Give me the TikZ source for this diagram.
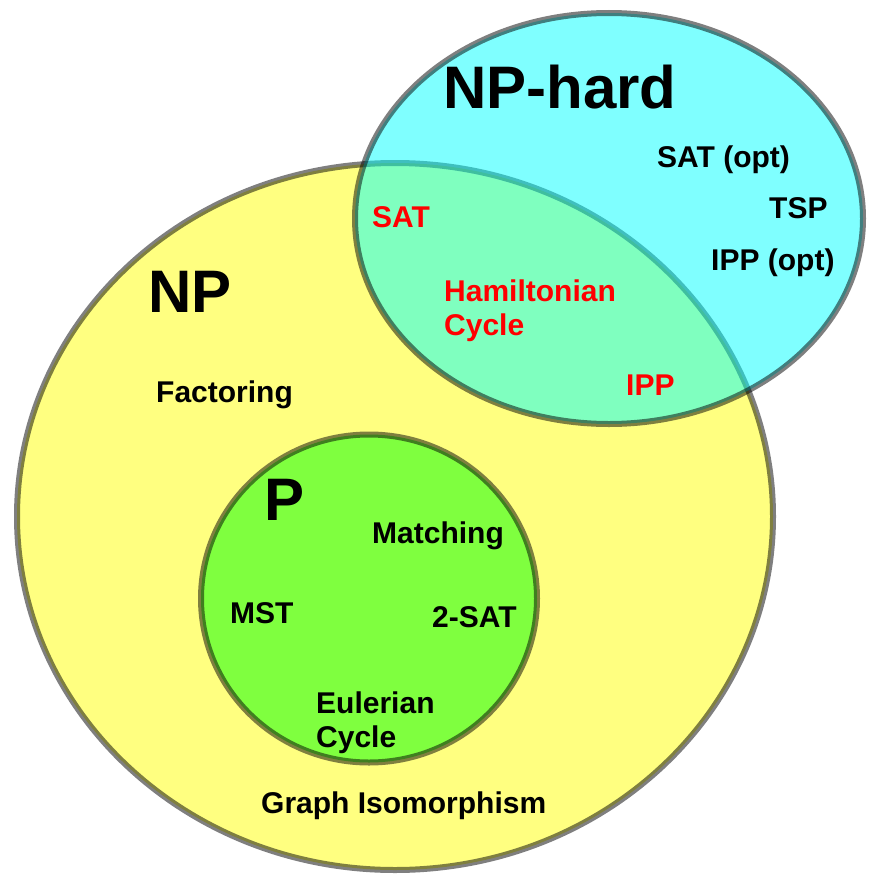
\documentclass[tikz,border=0pt]{standalone}
\usepackage{fontspec}
\setmainfont{Liberation Sans}
\usepackage{tikz}
\definecolor{npyellow}{RGB}{255,255,128}
\definecolor{hardcyan}{RGB}{0,255,255}
\definecolor{pgreen}{RGB}{0,255,0}

\begin{document}
\begin{tikzpicture}[x=1pt, y=-1pt]
    \tikzstyle{setline} = [line width=6pt, draw=black, draw opacity=.5]
    \tikzstyle{lbl} = [inner sep=0pt, anchor=base west, font=\bfseries\fontsize{30}{34}\selectfont]
    \tikzstyle{redlbl} = [lbl, text=red]
    \tikzstyle{biglbl} = [lbl, font=\bfseries\fontsize{60}{66}\selectfont]
    \useasboundingbox (0,0) rectangle (873,875);
    % the three classes
    \path[setline, fill=npyellow] (395,516.5) ellipse [x radius=378, y radius=353.5];
    \path[setline, fill=hardcyan, fill opacity=.5] (609,218.5) ellipse [x radius=254, y radius=205.5];
    \path[setline, fill=pgreen, fill opacity=.5] (369,598.5) ellipse [x radius=168, y radius=164];
    % class names
    \node (np-hard) [biglbl] at (443,108) {NP-hard};
    \node (np) [biglbl] at (148,312) {NP};
    \node (p) [biglbl] at (264,520) {P};
    % NP-hard only
    \node (sat-opt) [lbl] at (657,167) {SAT (opt)};
    \node (tsp) [lbl] at (769,218) {TSP};
    \node (ipp-opt) [lbl] at (711,270) {IPP (opt)};
    % NP-complete
    \node (sat) [redlbl] at (372,227) {SAT};
    \node (ham) [redlbl, anchor=north west, align=left] at (444,280) {Hamiltonian\\Cycle};
    \node (ipp) [redlbl] at (626,395) {IPP};
    % NP
    \node (factoring) [lbl] at (156,402) {Factoring};
    \node (graph-iso) [lbl] at (261,813) {Graph Isomorphism};
    % P
    \node (matching) [lbl] at (372,543) {Matching};
    \node (mst) [lbl] at (230,623) {MST};
    \node (two-sat) [lbl] at (432,627) {2-SAT};
    \node (euler) [lbl, anchor=north west, align=left] at (316,692) {Eulerian\\Cycle};
\end{tikzpicture}
\end{document}
